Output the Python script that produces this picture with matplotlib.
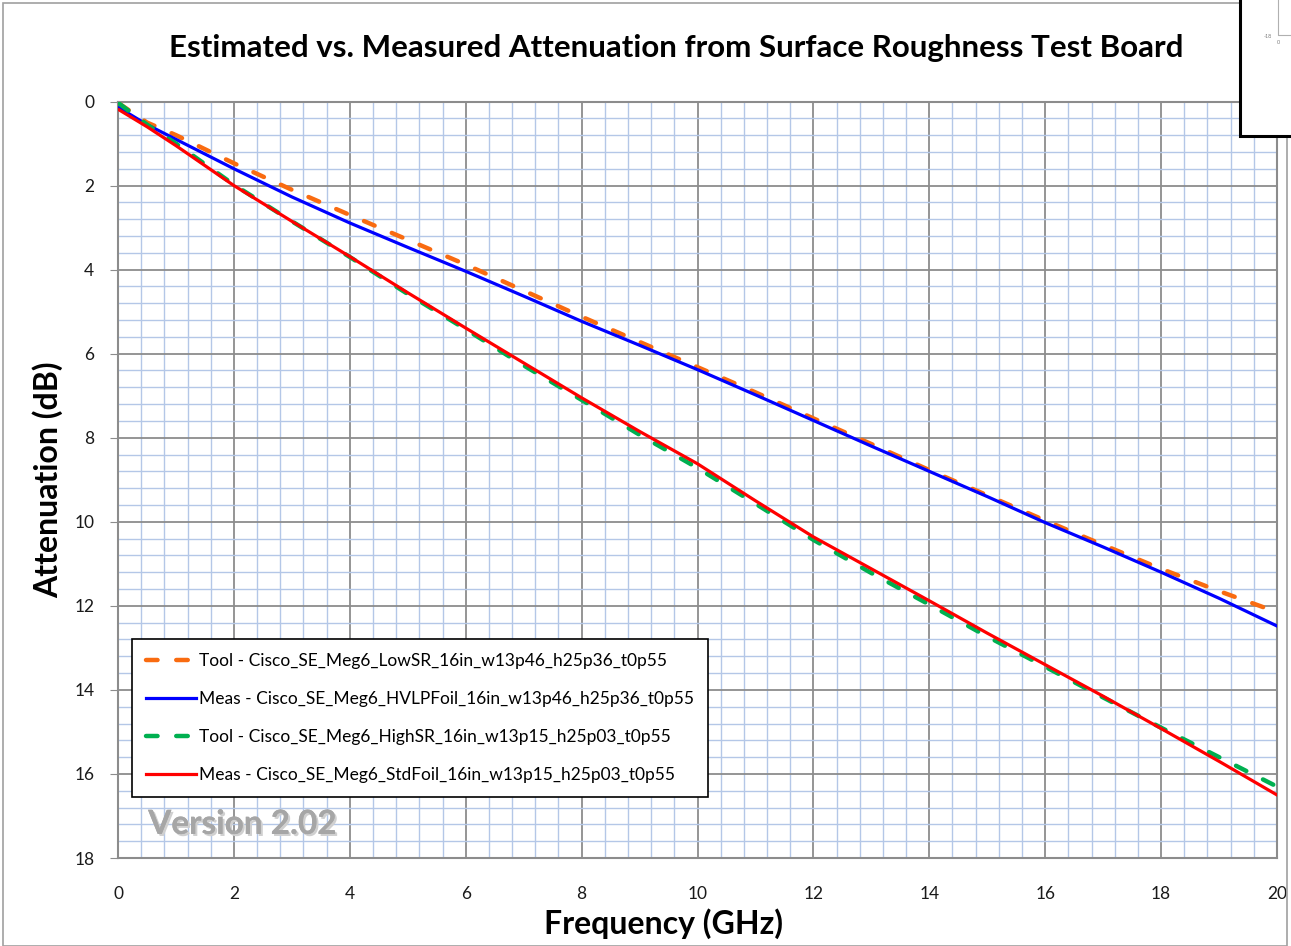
import numpy as np
import matplotlib
matplotlib.use("Agg")
import matplotlib.pyplot as plt
from matplotlib.patches import Rectangle
from matplotlib.lines import Line2D
import matplotlib.patheffects as pe

plt.rcParams['font.family'] = ['Lato', 'DejaVu Sans']

# frequency points (GHz)
freq = [0.02, 0.5, 1, 2, 3, 4, 5, 6, 7, 8, 9, 10, 11, 12, 13, 14, 15, 16, 17, 18, 19, 20]

# attenuation (dB)
tool_lowsr = [0.05, 0.50, 0.80, 1.47, 2.10, 2.70, 3.29, 3.88, 4.50, 5.12, 5.72, 6.32, 6.92,
              7.54, 8.15, 8.77, 9.37, 9.97, 10.55, 11.12, 11.65, 12.15]
meas_hvlp = [0.15, 0.55, 0.90, 1.60, 2.27, 2.89, 3.47, 4.04, 4.63, 5.23, 5.80, 6.38, 6.98,
             7.59, 8.20, 8.80, 9.40, 10.02, 10.60, 11.20, 11.82, 12.48]
tool_highsr = [0.05, 0.55, 1.00, 1.98, 2.85, 3.70, 4.58, 5.42, 6.28, 7.10, 7.93, 8.72, 9.57,
               10.43, 11.22, 11.97, 12.73, 13.45, 14.18, 14.90, 15.60, 16.30]
meas_std = [0.20, 0.60, 1.05, 2.00, 2.85, 3.69, 4.55, 5.39, 6.22, 7.05, 7.85, 8.62, 9.50,
            10.36, 11.12, 11.88, 12.65, 13.40, 14.15, 14.92, 15.70, 16.50]

labels = ["Tool - Cisco_SE_Meg6_LowSR_16in_w13p46_h25p36_t0p55",
          "Meas - Cisco_SE_Meg6_HVLPFoil_16in_w13p46_h25p36_t0p55",
          "Tool - Cisco_SE_Meg6_HighSR_16in_w13p15_h25p03_t0p55",
          "Meas - Cisco_SE_Meg6_StdFoil_16in_w13p15_h25p03_t0p55"]

W, H = 1291, 946
fig = plt.figure(figsize=(W / 100, H / 100), dpi=100)
ax = fig.add_axes([118 / W, 1 - 858 / H, (1277 - 118) / W, (858 - 101.5) / H])

dash = (0, (2.6, 4.2))
ax.plot(freq, tool_lowsr, color="#f96b10", lw=3.2, ls=dash,
        dash_capstyle="round", label=labels[0], zorder=3)
ax.plot(freq, meas_hvlp, color="#0000ff", lw=2.3, label=labels[1], zorder=4)
ax.plot(freq, tool_highsr, color="#00b050", lw=3.2, ls=dash,
        dash_capstyle="round", label=labels[2], zorder=5)
ax.plot(freq, meas_std, color="#ff0000", lw=2.3, label=labels[3], zorder=6)

ax.set_xlim(0, 20)
ax.set_ylim(18, 0)
ax.set_xticks(np.arange(0, 21, 2))
ax.set_yticks(np.arange(0, 19, 2))
ax.set_xticks(np.arange(0, 20.01, 0.4), minor=True)
ax.set_yticks(np.arange(0, 18.01, 0.4), minor=True)
ax.grid(which="minor", color="#b4c7e7", lw=1.0, zorder=0)
ax.grid(which="major", color="#8c8c8c", lw=1.3, zorder=1)
ax.set_axisbelow(True)
for s in ax.spines.values():
    s.set_color("#8c8c8c")
    s.set_linewidth(1.5)
ax.tick_params(axis="y", which="major", length=6, color="#8c8c8c", labelsize=12.5, pad=11)
ax.tick_params(axis="x", which="major", length=0, labelsize=12.5, pad=20)
ax.tick_params(which="minor", length=0)
for t in ax.get_xticklabels() + ax.get_yticklabels():
    t.set_color("#1a1a1a")

fig.text(676 / W, 1 - 48 / H, "Estimated vs. Measured Attenuation from Surface Roughness Test Board",
         fontsize=22.5, fontweight="bold", ha="center", va="center")
ax.set_xlabel("Frequency (GHz)", fontsize=23, fontweight="bold")
ax.xaxis.set_label_coords((664 - 118) / 1159, -(924 - 858) / 756.5)
ax.xaxis.label.set_va("center")
ax.set_ylabel("Attenuation (dB)", fontsize=23, fontweight="bold")
ax.yaxis.set_label_coords(-(118 - 48) / 1159, (858 - 480) / 756.5)
ax.yaxis.label.set_va("center")

leg = ax.legend(loc="lower left", bbox_to_anchor=(14 / 1159, 61 / 756.5),
                borderaxespad=0, fontsize=12.5, handlelength=2.9, handletextpad=0.15,
                labelspacing=1.27, borderpad=0.8, fancybox=False, framealpha=1,
                edgecolor="black")
leg.get_frame().set_linewidth(1.2)
leg.set_zorder(10)

ax.text(0.52, 17.2, "Version 2.02", fontsize=24, fontweight="bold", color="#a6a6a6",
        va="center", ha="left", zorder=11,
        path_effects=[pe.withSimplePatchShadow(offset=(1.5, -1.5), shadow_rgbFace="#d0d0d0", alpha=1),
                      pe.Normal()])

# outer chart border
fig.add_artist(Rectangle((3 / W, 0), (1287 - 3) / W, 1 - 3 / H, transform=fig.transFigure,
                         fill=False, edgecolor="#a0a0a0", lw=1.2))
# overlapping inset box at top right
fig.add_artist(Rectangle((1240 / W, 1 - 136 / H), 60 / W, 140 / H, transform=fig.transFigure,
                         facecolor="white", edgecolor="black", lw=2.2, zorder=20))
fig.add_artist(Line2D([1278 / W, 1278 / W, 1.0], [1.0, 1 - 35 / H, 1 - 35 / H],
                      transform=fig.transFigure, color="#b0b0b0", lw=0.8, zorder=21))
fig.text(1272 / W, 1 - 36 / H, "-18", fontsize=4, color="#808080", ha="right", va="center", zorder=21)
fig.text(1278 / W, 1 - 42 / H, "0", fontsize=4, color="#808080", ha="center", va="center", zorder=21)

fig.savefig("out.png", dpi=100)
